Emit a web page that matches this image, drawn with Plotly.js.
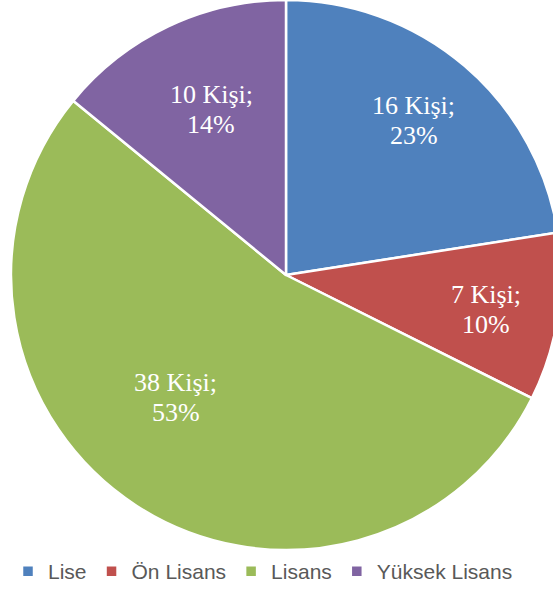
<!DOCTYPE html>
<html>
<head>
<meta charset="utf-8">
<script src="https://cdn.plot.ly/plotly-3.0.1.min.js"></script>
<style>
html,body{margin:0;padding:0;overflow:hidden;background:#fff;}
#chart{width:572px;height:592px;}
</style>
</head>
<body>
<div id="chart"></div>
<script>
const categories = ["Lise", "Ön Lisans", "Lisans", "Yüksek Lisans"];
const counts = [16, 7, 38, 10];
const percentLabels = ["23%", "10%", "53%", "14%"];
const colors = ["#4F81BD", "#C0504D", "#9BBB59", "#8064A2"];

// label placement (fraction of radius, extra angle in degrees) — layout only
const labelRadius = [0.73, 0.74, 0.6, 0.66];
const labelAngleShift = [-1, 1, 9, 1];

const W = 572, H = 592, M = {l: 0, r: 0, t: 0, b: 42};
const plotW = W - M.l - M.r, plotH = H - M.t - M.b;
const R = Math.min(plotW, plotH) / 2;

const labelFont = {family: "Liberation Serif, Times New Roman, serif", size: 26, color: "#ffffff"};
const total = counts.reduce((a, b) => a + b, 0);
const annotations = [];
let cum = 0;
counts.forEach((v, i) => {
  const mid = (cum + v / 2) / total * 360 + labelAngleShift[i];
  cum += v;
  const th = mid * Math.PI / 180;
  const r = R * labelRadius[i];
  const px = plotW / 2 + r * Math.sin(th);
  const py = plotH / 2 + r * Math.cos(th);
  const base = {
    xref: "paper", yref: "paper",
    x: px / plotW, y: py / plotH,
    xanchor: "center", yanchor: "middle",
    showarrow: false, font: labelFont
  };
  annotations.push(Object.assign({}, base, {text: v + " Kişi;", yshift: 15}));
  annotations.push(Object.assign({}, base, {text: percentLabels[i], yshift: -15}));
});

const trace = {
  type: "pie",
  labels: categories,
  values: counts,
  sort: false,
  direction: "clockwise",
  rotation: 0,
  marker: {colors: colors, line: {color: "#ffffff", width: 2.5}},
  textinfo: "none",
  hoverinfo: "none"
};

const layout = {
  width: W,
  height: H,
  margin: M,
  paper_bgcolor: "#ffffff",
  showlegend: true,
  annotations: annotations,
  legend: {
    orientation: "h",
    xref: "container", yref: "container",
    x: 0.014, xanchor: "left",
    y: -0.005, yanchor: "bottom",
    font: {family: "Liberation Sans, Arial, sans-serif", size: 21, color: "#595959"},
    itemwidth: 30,
    traceorder: "normal"
  }
};

Plotly.newPlot("chart", [trace], layout, {displayModeBar: false, staticPlot: true});
</script>
</body>
</html>
